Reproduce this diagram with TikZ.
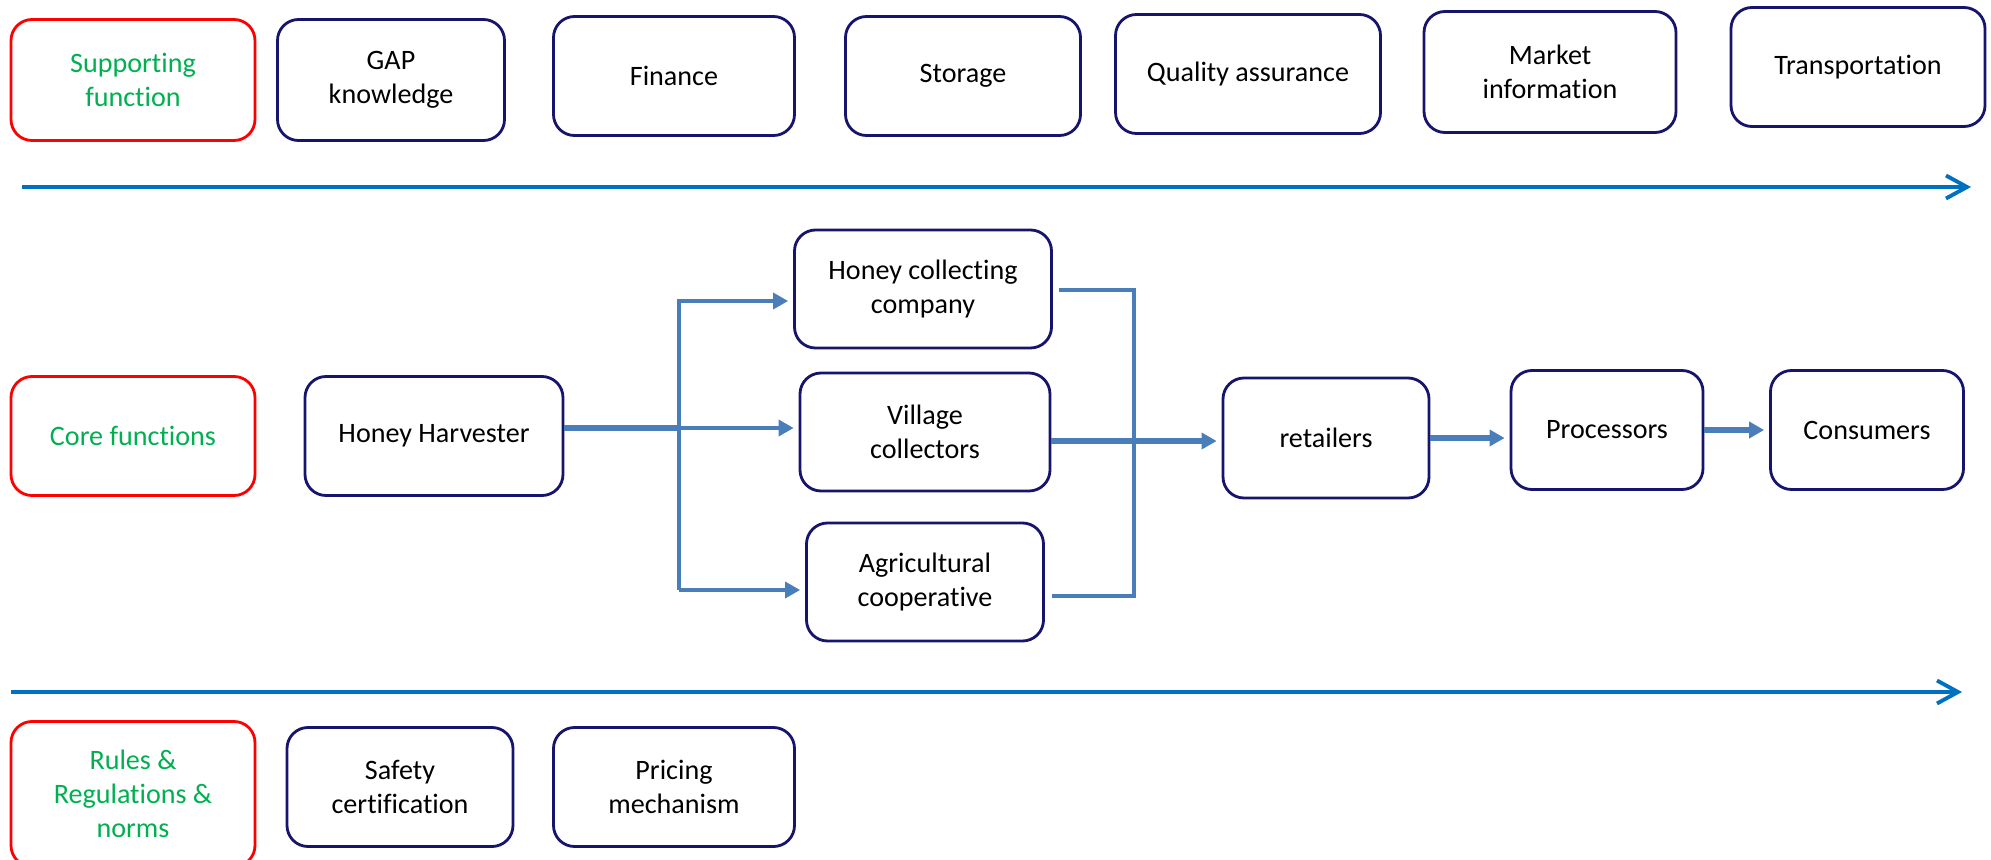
\documentclass[tikz,border=0pt]{standalone}
\usepackage{fontspec}
\setmainfont{Carlito}[Ligatures=NoCommon]
\usetikzlibrary{positioning}
\usetikzlibrary{arrows.meta}
\definecolor{boxNavy}{HTML}{16146C}
\definecolor{headRed}{HTML}{FF0000}
\definecolor{headGreen}{HTML}{00B050}
\definecolor{flowBlue}{HTML}{4A7EBB}
\definecolor{axisBlue}{HTML}{0070C0}
\tikzset{%
	% Specifications for style of nodes:
	base/.style = {rectangle, rounded corners=0.42cm, draw=boxNavy,
		line width=1.6pt, inner sep=0pt,
		align=center, font=\fontsize{16}{19.5}\selectfont},
	boxSize/.style 2 args = {minimum width=#1*0.02cm, minimum height=#2*0.02cm},
	actor/.style = {base},
	heading/.style = {base, draw=headRed, text=headGreen},
	% connectors
	flow/.style = {draw=flowBlue, line width=2pt},
	thickFlow/.style = {draw=flowBlue, line width=3.6pt},
	flowTip/.style = {-{Triangle[length=0.3cm, width=0.32cm]}, shorten >=0.1cm},
	timeline/.style = {draw=axisBlue, line width=2.2pt,
		-{Straight Barb[length=0.42cm, width=0.46cm, line width=2.2pt]}}
}

\begin{document}
\begin{tikzpicture}[x=0.02cm, y=-0.02cm]
	\useasboundingbox (0,0) rectangle (1991,859);
	% supporting functions
	\node (supportHead) [heading, boxSize={244}{121}] at (133,80) {Supporting\\function};
	\node (gapKnow) [actor, boxSize={227}{121}] at (391,80) {GAP\\knowledge};
	\node (finance) [actor, boxSize={241}{119}] at (674,76) {Finance};
	\node (storage) [actor, boxSize={235}{119}] at (963,76) {Storage};
	\node (quality) [actor, boxSize={265}{119}] at (1248,74) {Quality assurance};
	\node (marketInfo) [actor, boxSize={252}{121}] at (1550,72) {Market\\information};
	\node (transport) [actor, boxSize={254}{119}] at (1858,67) {Transportation};
	\coordinate (topStart) at (22,187);
	\coordinate (topEnd) at (1971,187);
	\draw[timeline] (topStart) -- (topEnd);
	% core chain
	\node (coreHead) [heading, boxSize={244}{119}] at (133,436) {Core functions};
	\node (harvester) [actor, boxSize={258}{119}] at (434,436) {Honey Harvester};
	\node (company) [actor, boxSize={257}{118}] at (923,289) {Honey collecting\\company};
	\node (village) [actor, boxSize={250}{118}] at (925,432) {Village\\collectors};
	\node (coop) [actor, boxSize={237}{118}] at (925,582) {Agricultural\\cooperative};
	\node (retailers) [actor, boxSize={206}{120}] at (1326,438) {retailers};
	\node (processors) [actor, boxSize={192}{119}] at (1607,430) {Processors};
	\node (consumers) [actor, boxSize={193}{119}] at (1867,430) {Consumers};
	\coordinate (split) at (679,428);
	\coordinate (splitTop) at (679,301);
	\coordinate (splitLow) at (679,590);
	\coordinate (joinTop) at (1134,290);
	\coordinate (joinLow) at (1134,596);
	\coordinate (joinMid) at (1134,441);
	\draw[thickFlow] (harvester.east |- split) -- (split);
	\draw[flow, flowTip] (split) -- (village.west |- split);
	\draw[flow, flowTip] (splitLow) -- (splitTop) -- (company.west |- splitTop);
	\draw[flow, flowTip] (splitLow) -- (coop.west |- splitLow);
	\draw[flow, shorten <=0.12cm, shorten >=0.14cm] (company.east |- joinTop) -- (joinTop) -- (joinLow) -- (coop.east |- joinLow);
	\draw[thickFlow, flowTip] (village.east |- joinMid) -- (retailers.west |- joinMid);
	\draw[thickFlow, flowTip] (retailers.east) -- (retailers.east -| processors.west);
	\draw[thickFlow, flowTip] (processors.east) -- (processors.east -| consumers.west);
	\coordinate (lowStart) at (11,692);
	\coordinate (lowEnd) at (1962,692);
	\draw[timeline] (lowStart) -- (lowEnd);
	% rules and norms
	\node (rulesHead) [heading, boxSize={244}{145}] at (133,794) {Rules \&\\Regulations \&\\norms};
	\node (safety) [actor, boxSize={226}{119}] at (400,787) {Safety\\certification};
	\node (pricing) [actor, boxSize={241}{119}] at (674,787) {Pricing\\mechanism};
\end{tikzpicture}
\end{document}
